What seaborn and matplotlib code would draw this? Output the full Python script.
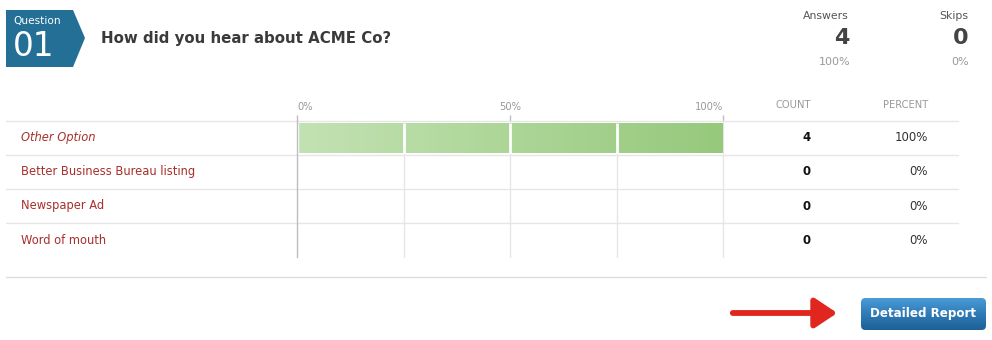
import numpy as np
import pandas as pd
import matplotlib
matplotlib.use("Agg")
import matplotlib.pyplot as plt
import matplotlib.transforms as mtransforms
from matplotlib.patches import Polygon, FancyBboxPatch, FancyArrowPatch
from matplotlib.lines import Line2D
import seaborn as sns

# ---- data ----
question_no = "01"
question = "How did you hear about ACME Co?"
categories = ["Other Option", "Better Business Bureau listing", "Newspaper Ad", "Word of mouth"]
counts = [4, 0, 0, 0]
answers_count = 4
answers_pct = "100%"
skips_count = 0
skips_pct = "0%"
x_ticks = [0, 50, 100]
x_tick_labels = ["0%", "50%", "100%"]
minor_ticks = [25, 75]

total = sum(counts)
percents = [100.0 * c / total for c in counts]
df = pd.DataFrame({"category": categories, "percent": percents, "count": counts})

sns.set_theme(style="white")
plt.rcParams["font.family"] = ["DejaVu Sans"]

W, H = 992, 340
fig = plt.figure(figsize=(W / 100, H / 100), dpi=100)
fig.patch.set_facecolor("white")

def fx(px):
    return px / W

def fy(py):
    return 1 - py / H

# ---- bar axes ----
ax_l, ax_r, ax_t, ax_b = 297, 723, 121, 257
ax = fig.add_axes([fx(ax_l), fy(ax_b), fx(ax_r - ax_l), (ax_b - ax_t) / H])
sns.barplot(data=df, x="percent", y="category", ax=ax, orient="h",
            width=0.9, color="#b0d89c", saturation=1, zorder=2)
ax.set_xlim(0, 100)
ax.set_ylim(len(categories) - 0.5, -0.5)
ax.set_xlabel("")
ax.set_ylabel("")
ax.set_yticks([])
for s in ["top", "right", "bottom"]:
    ax.spines[s].set_visible(False)
ax.spines["left"].set_color("#bdbdbd")
ax.spines["left"].set_linewidth(1)
ax.spines["left"].set_zorder(5)

ax.set_xticks(x_ticks)
ax.xaxis.tick_top()
ax.set_xticklabels(x_tick_labels)
ax.tick_params(axis="x", which="major", top=True, length=4.5, width=1, color="#bdbdbd",
               labelsize=7.2, labelcolor="#999999", pad=2)
labs = ax.get_xticklabels()
labs[0].set_ha("left")
labs[1].set_ha("center")
labs[2].set_ha("right")
ax.grid(False)
for t in sorted(x_ticks[1:] + minor_ticks):
    ax.axvline(t, color="#e6e6e6", linewidth=1, zorder=0, clip_on=False)

# gradient fill on bars
grad_cmap = matplotlib.colors.LinearSegmentedColormap.from_list("g", ["#c3e2b3", "#96c97c"])
bar_extents = []
for p in ax.patches:
    w = p.get_width()
    if w <= 0:
        continue
    x0, y0, h = p.get_x(), p.get_y(), p.get_height()
    grad = np.linspace(0, 1, 256).reshape(1, -1)
    im = ax.imshow(grad, extent=[x0, x0 + w, y0 + h, y0], aspect="auto",
                   cmap=grad_cmap, zorder=3)
    im.set_clip_path(p)
    bar_extents.append((x0, x0 + w, y0, y0 + h))
ax.set_xlim(0, 100)
ax.set_ylim(len(categories) - 0.5, -0.5)

# white separators across bars at grid positions
for (x0, x1, y0, y1) in bar_extents:
    for t in [0] + minor_ticks + [50]:
        if x0 <= t < x1:
            ax.vlines(t + (0.25 if t == 0 else 0), y0, y1, color="white",
                      linewidth=2.0 if t else 1.0, zorder=4)

# row separator lines
xmin_f = (6 - ax_l) / (ax_r - ax_l)
xmax_f = (958 - ax_l) / (ax_r - ax_l)
for i in range(len(categories)):
    ax.axhline(i - 0.5, xmin=xmin_f, xmax=xmax_f, color="#e6e6e6", linewidth=1,
               clip_on=False, zorder=1)

# row texts
blend = mtransforms.blended_transform_factory(fig.transFigure, ax.transData)
for i, row in df.iterrows():
    style = "italic" if i == 0 else "normal"
    ax.text(fx(21), i, row["category"], transform=blend, ha="left", va="center",
            fontsize=8.3, color="#a8302c", style=style)
    ax.text(fx(811), i, str(row["count"]), transform=blend, ha="right", va="center",
            fontsize=8.5, color="#111111", fontweight="bold")
    ax.text(fx(928), i, f"{row['percent']:.0f}%", transform=blend, ha="right", va="center",
            fontsize=8.5, color="#333333")

# column headers
fig.text(fx(811), fy(105), "COUNT", ha="right", va="center", fontsize=7.2, color="#999999")
fig.text(fx(928), fy(105), "PERCENT", ha="right", va="center", fontsize=7.2, color="#999999")

# ---- header ----
badge = Polygon([(fx(6), fy(10)), (fx(73), fy(10)), (fx(85), fy(38)),
                 (fx(73), fy(67)), (fx(6), fy(67))], closed=True,
                transform=fig.transFigure, facecolor="#236f96", edgecolor="none")
fig.patches.append(badge)
fig.text(fx(13), fy(21), "Question", ha="left", va="center", fontsize=7.6, color="white")
fig.text(fx(13), fy(47), question_no, ha="left", va="center", fontsize=23.5, color="white")
fig.text(fx(101), fy(39), question, ha="left", va="center", fontsize=10.8,
         fontweight="bold", color="#3a3a3a")

fig.text(fx(849), fy(16), "Answers", ha="right", va="center", fontsize=7.8, color="#555555")
fig.text(fx(849), fy(38), str(answers_count), ha="right", va="center", fontsize=16,
         fontweight="bold", color="#444444")
fig.text(fx(850), fy(62), answers_pct, ha="right", va="center", fontsize=8, color="#999999")
fig.text(fx(968), fy(16), "Skips", ha="right", va="center", fontsize=7.8, color="#555555")
fig.text(fx(969), fy(38), str(skips_count), ha="right", va="center", fontsize=16,
         fontweight="bold", color="#444444")
fig.text(fx(969), fy(62), skips_pct, ha="right", va="center", fontsize=8, color="#999999")

# bottom separator
fig.lines.append(Line2D([fx(6), fx(986)], [fy(277), fy(277)], transform=fig.transFigure,
                        color="#dddddd", linewidth=1))

# arrow
arrow = FancyArrowPatch((730, H - 313), (840, H - 313),
                        arrowstyle="-|>,head_length=0.9,head_width=0.6",
                        mutation_scale=15, linewidth=4.2, color="#e0261f")
arrow.set_transform(mtransforms.IdentityTransform())
fig.patches.append(arrow)

# button
bax = fig.add_axes([fx(861), fy(330), fx(986 - 861), (330 - 298) / H])
bax.set_xlim(0, 1)
bax.set_ylim(0, 1)
bax.axis("off")
btn_cmap = matplotlib.colors.LinearSegmentedColormap.from_list("b", ["#1d6197", "#2f7bb6", "#4a9cd6"])
g = np.linspace(0, 1, 128).reshape(-1, 1)
bim = bax.imshow(g, extent=[0, 1, 0, 1], origin="lower", aspect="auto", cmap=btn_cmap)
box = FancyBboxPatch((0.0, 0.0), 1.0, 1.0, boxstyle="round,pad=0,rounding_size=0.035",
                     transform=bax.transAxes, facecolor="none", edgecolor="none",
                     mutation_aspect=3.9)
bax.add_patch(box)
bim.set_clip_path(box)
bax.text(0.5, 0.5, "Detailed Report", ha="center", va="center", fontsize=8.6,
         fontweight="bold", color="white", transform=bax.transAxes)

fig.savefig("out.png", dpi=100, facecolor="white")
